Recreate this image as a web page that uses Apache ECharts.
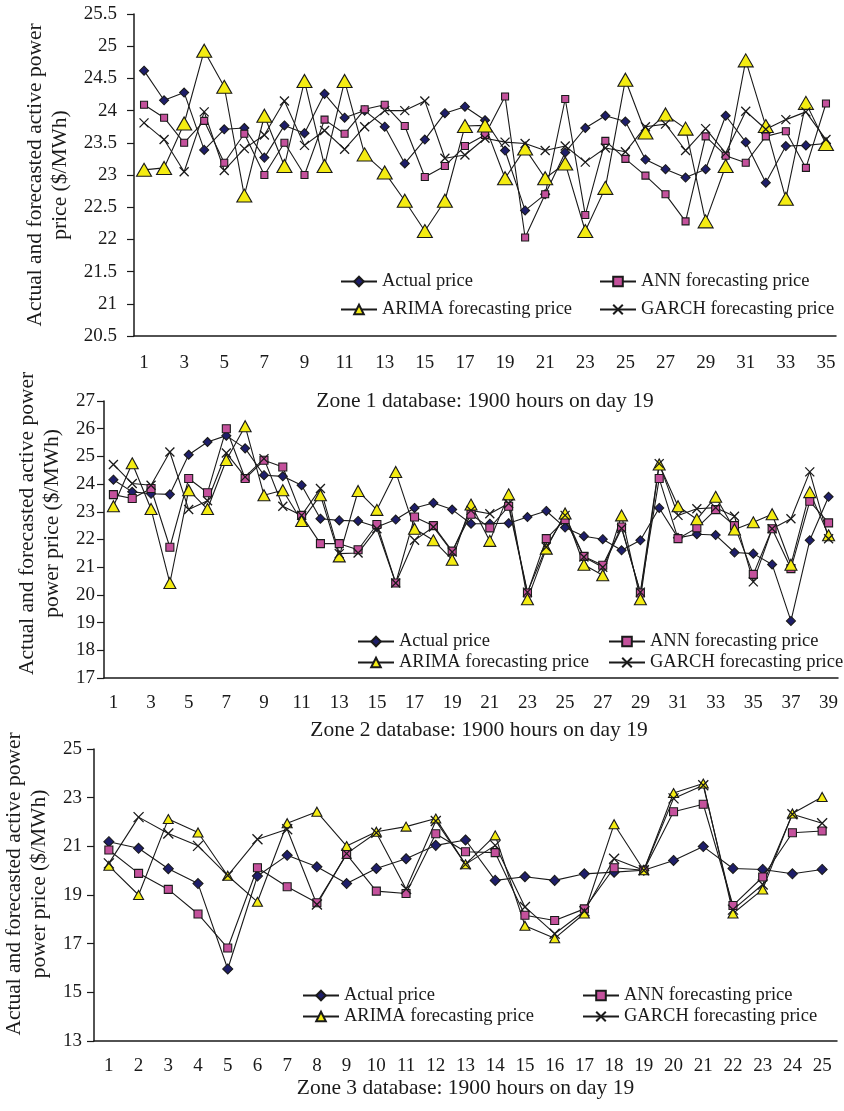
<!DOCTYPE html>
<html>
<head>
<meta charset="utf-8">
<title>Actual and forecasted active power price</title>
<script src="https://cdn.jsdelivr.net/npm/echarts@6/dist/echarts.min.js"></script>
<style>
    html, body { margin: 0; padding: 0; background: #fff; }
    #chart { width: 844px; height: 1111px; }
</style>
</head>
<body>
<div id="chart"></div>
<script>
// ---- data ----
// zone 1 (35 hours)
const zone1Hours = ['1','2','3','4','5','6','7','8','9','10','11','12','13','14','15','16','17','18','19','20','21','22','23','24','25','26','27','28','29','30','31','32','33','34','35'];
const zone1Actual = [24.62, 24.16, 24.28, 23.39, 23.71, 23.73, 23.27, 23.77, 23.65, 24.26, 23.89, 24.0, 23.75, 23.18, 23.55, 23.96, 24.06, 23.85, 23.38, 22.45, 22.7, 23.35, 23.73, 23.92, 23.83, 23.24, 23.09, 22.96, 23.09, 23.92, 23.51, 22.88, 23.45, 23.46, 23.49];
const zone1Ann = [24.09, 23.89, 23.5, 23.84, 23.19, 23.64, 23.0, 23.5, 23.0, 23.86, 23.64, 24.02, 24.09, 23.76, 22.97, 23.14, 23.45, 23.62, 24.22, 22.03, 22.7, 24.18, 22.38, 23.53, 23.25, 22.99, 22.7, 22.28, 23.6, 23.3, 23.19, 23.6, 23.68, 23.11, 24.11];
const zone1Arima = [23.08, 23.11, 23.8, 24.93, 24.37, 22.68, 23.92, 23.14, 24.46, 23.14, 24.46, 23.32, 23.04, 22.6, 22.13, 22.6, 23.76, 23.77, 22.95, 23.41, 22.95, 23.18, 22.13, 22.8, 24.48, 23.66, 23.94, 23.72, 22.28, 23.14, 24.78, 23.76, 22.63, 24.12, 23.48];
const zone1Garch = [23.81, 23.55, 23.05, 23.98, 23.07, 23.41, 23.62, 24.15, 23.46, 23.69, 23.4, 23.75, 24.0, 24.0, 24.15, 23.26, 23.31, 23.57, 23.51, 23.49, 23.38, 23.45, 23.2, 23.42, 23.36, 23.75, 23.79, 23.38, 23.72, 23.34, 23.99, 23.71, 23.86, 23.98, 23.55];

// zone 2 (39 hours)
const zone2Hours = ['1','2','3','4','5','6','7','8','9','10','11','12','13','14','15','16','17','18','19','20','21','22','23','24','25','26','27','28','29','30','31','32','33','34','35','36','37','38','39'];
const zone2Actual = [24.16, 23.72, 23.65, 23.63, 25.06, 25.52, 25.75, 25.29, 24.32, 24.28, 23.96, 22.75, 22.69, 22.67, 22.45, 22.72, 23.14, 23.32, 23.08, 22.57, 22.57, 22.59, 22.81, 23.03, 22.43, 22.12, 22.01, 21.61, 21.97, 23.14, 22.06, 22.19, 22.16, 21.53, 21.49, 21.1, 19.06, 21.97, 23.54];
const zone2Ann = [23.62, 23.48, 23.84, 21.72, 24.2, 23.69, 26.0, 24.2, 24.86, 24.62, 22.87, 21.85, 21.85, 21.63, 22.54, 20.43, 22.81, 22.5, 21.58, 22.91, 22.42, 23.2, 20.07, 22.03, 22.72, 21.39, 21.07, 22.45, 20.07, 24.2, 22.03, 22.42, 23.08, 22.5, 20.74, 22.39, 20.95, 23.38, 22.6];
const zone2Arima = [23.2, 24.75, 23.1, 20.43, 23.78, 23.1, 24.87, 26.09, 23.6, 23.78, 22.67, 23.6, 21.39, 23.75, 23.07, 24.44, 22.39, 21.97, 21.27, 23.26, 21.95, 23.63, 19.84, 21.67, 22.94, 21.09, 20.71, 22.87, 19.84, 24.71, 23.2, 22.73, 23.54, 22.36, 22.62, 22.91, 21.09, 23.71, 22.15];
const zone2Garch = [24.71, 24.02, 23.96, 25.16, 23.08, 23.4, 25.12, 24.26, 24.92, 23.2, 22.87, 23.84, 21.49, 21.51, 22.39, 20.43, 21.97, 22.45, 21.55, 23.05, 22.93, 23.3, 20.1, 21.73, 22.87, 21.37, 21.0, 22.4, 20.1, 24.74, 22.87, 23.11, 23.15, 22.84, 20.47, 22.39, 22.75, 24.44, 22.03];

// zone 3 (25 hours)
const zone3Hours = ['1','2','3','4','5','6','7','8','9','10','11','12','13','14','15','16','17','18','19','20','21','22','23','24','25'];
const zone3Actual = [21.19, 20.92, 20.08, 19.47, 15.96, 19.78, 20.63, 20.16, 19.47, 20.09, 20.49, 21.04, 21.26, 19.6, 19.75, 19.6, 19.87, 19.94, 20.02, 20.42, 20.99, 20.09, 20.05, 19.87, 20.05];
const zone3Ann = [20.85, 19.89, 19.23, 18.22, 16.82, 20.12, 19.34, 18.68, 20.67, 19.16, 19.06, 21.52, 20.78, 20.74, 18.17, 17.95, 18.43, 20.12, 20.02, 22.42, 22.73, 18.57, 19.74, 21.56, 21.63];
const zone3Arima = [20.2, 19.0, 22.12, 21.57, 19.79, 18.72, 21.95, 22.42, 21.01, 21.6, 21.81, 22.14, 20.26, 21.45, 17.74, 17.22, 18.24, 21.91, 20.02, 23.19, 23.58, 18.24, 19.23, 22.35, 23.03];
const zone3Garch = [20.3, 22.2, 21.53, 21.02, 19.8, 21.29, 21.7, 18.61, 20.7, 21.56, 19.25, 22.04, 20.26, 21.04, 18.51, 17.41, 18.33, 20.49, 20.02, 22.97, 23.51, 18.4, 19.43, 22.32, 21.95];

// zone 3 y ticks (13 is not a multiple of 2, so use custom values)
const zone3Ticks = [13, 15, 17, 19, 21, 23, 25];

// ---- styles ----
const ink = '#1a1a1a';
const font = 'Liberation Serif, Times New Roman, serif';
const crossPath = 'path://M0,0L10,10M10,0L0,10';
const names = ['Actual price', 'ANN forecasting price', 'ARIMA forecasting price', 'GARCH forecasting price'];

// marker look per series, sizes per zone
const markers = [
    { symbol: 'diamond', fill: '#1e1e6a', sizes: [9, 9, 10] },
    { symbol: 'rect', fill: '#c4519c', sizes: [7, 8, 8] },
    { symbol: 'triangle', fill: '#f4ec12', sizes: [[15, 13], [12, 11], [10, 9]] },
    { symbol: crossPath, fill: ink, sizes: [9, 9, 10] },
];

const makeSeries = (zone, idx, data) => {
    const m = markers[idx];
    return {
        name: names[idx],
        type: 'line',
        xAxisIndex: zone,
        yAxisIndex: zone,
        data: data,
        symbol: m.symbol,
        symbolSize: m.sizes[zone],
        showAllSymbol: true,
        itemStyle: {
            color: m.fill,
            borderColor: ink,
            borderWidth: idx === 3 ? 1.3 : 1.1,
        },
        lineStyle: { color: ink, width: 1.1 },
        emphasis: { disabled: true },
    };
};

// shiftRight nudges the centred title sideways
const xAxisFor = (zone, data, name, labelInterval, nameGap, margin, shiftRight) => ({
    gridIndex: zone,
    type: 'category',
    data: data,
    boundaryGap: true,
    axisLine: { lineStyle: { color: ink, width: 1.5 } },
    axisTick: { interval: 0, length: 7, lineStyle: { color: ink, width: 1.2 } },
    axisLabel: { interval: labelInterval, margin: margin, fontFamily: font, fontSize: 19, color: ink },
    name: name,
    nameLocation: 'middle',
    nameGap: nameGap,
    nameTextStyle: { fontFamily: font, fontSize: 21.5, color: ink, padding: [0, 0, 0, shiftRight * 2] },
});

// shiftUp moves the rotated title along the axis (padding on the text start side)
const yAxisFor = (zone, extra, name, nameGap, margin, shiftUp) => Object.assign({
    gridIndex: zone,
    type: 'value',
    axisLine: { show: true, lineStyle: { color: ink, width: 1.5 } },
    axisTick: { show: true, length: 7, lineStyle: { color: ink, width: 1.2 } },
    splitLine: { show: false },
    axisLabel: { margin: margin, fontFamily: font, fontSize: 19, color: ink },
    name: name,
    nameLocation: 'middle',
    nameGap: nameGap,
    nameTextStyle: {
        fontFamily: font, fontSize: 21.5, color: ink, lineHeight: 25,
        padding: [0, 0, 0, shiftUp * 2],
    },
}, extra);

// one legend box per entry so the 2x2 layout can be placed freely
const legendAt = (name, left, rowY) => ({
    data: [name],
    left: left,
    top: rowY - 10,
    padding: 0,
    itemWidth: 36,
    itemHeight: 12,
    selectedMode: false,
    textStyle: { fontFamily: font, fontSize: 18.5, color: ink },
});

const options = {
    animation: false,
    backgroundColor: '#fff',
    grid: [
        { left: 134, top: 14, width: 702, height: 322, outerBoundsMode: 'none' },
        { left: 104, top: 401, width: 734, height: 277, outerBoundsMode: 'none' },
        { left: 94, top: 749, width: 743, height: 292, outerBoundsMode: 'none' },
    ],
    legend: [
        legendAt(names[0], 340, 282), legendAt(names[1], 599, 282),
        legendAt(names[2], 340, 310), legendAt(names[3], 599, 310),
        legendAt(names[0], 357, 642), legendAt(names[1], 608, 642),
        legendAt(names[2], 357, 663), legendAt(names[3], 608, 663),
        legendAt(names[0], 302, 996), legendAt(names[1], 582, 996),
        legendAt(names[2], 302, 1017), legendAt(names[3], 582, 1017),
    ],
    xAxis: [
        xAxisFor(0, zone1Hours, 'Zone 1 database: 1900 hours on day 19', 1, 54, 18, 0),
        xAxisFor(1, zone2Hours, 'Zone 2 database: 1900 hours on day 19', 1, 41, 16, 8),
        xAxisFor(2, zone3Hours, 'Zone 3 database: 1900 hours on day 19', 0, 35, 16, 0),
    ],
    yAxis: [
        yAxisFor(0, { min: 20.5, max: 25.5, interval: 0.5 },
            'Actual and forecasted active power\nprice ($/MWh)', 58, 17, 0),
        yAxisFor(1, { min: 17, max: 27, interval: 1 },
            'Actual and forecasted active power\npower price ($/MWh)', 37, 9, 16),
        yAxisFor(2, { min: 13, max: 25, axisTick: { show: true, length: 7, customValues: zone3Ticks, lineStyle: { color: ink, width: 1.2 } } },
            'Actual and forecasted active power\npower price ($/MWh)', 38, 12, 11),
    ],
    series: [],
};
options.yAxis[2].axisLabel.customValues = zone3Ticks;

const zoneData = [
    [zone1Actual, zone1Ann, zone1Arima, zone1Garch],
    [zone2Actual, zone2Ann, zone2Arima, zone2Garch],
    [zone3Actual, zone3Ann, zone3Arima, zone3Garch],
];
zoneData.forEach((sets, zone) => {
    sets.forEach((data, idx) => {
        options.series.push(makeSeries(zone, idx, data));
    });
});

const myChart = echarts.init(document.getElementById('chart'), null, { renderer: 'canvas' });
myChart.setOption(options);
</script>
</body>
</html>
